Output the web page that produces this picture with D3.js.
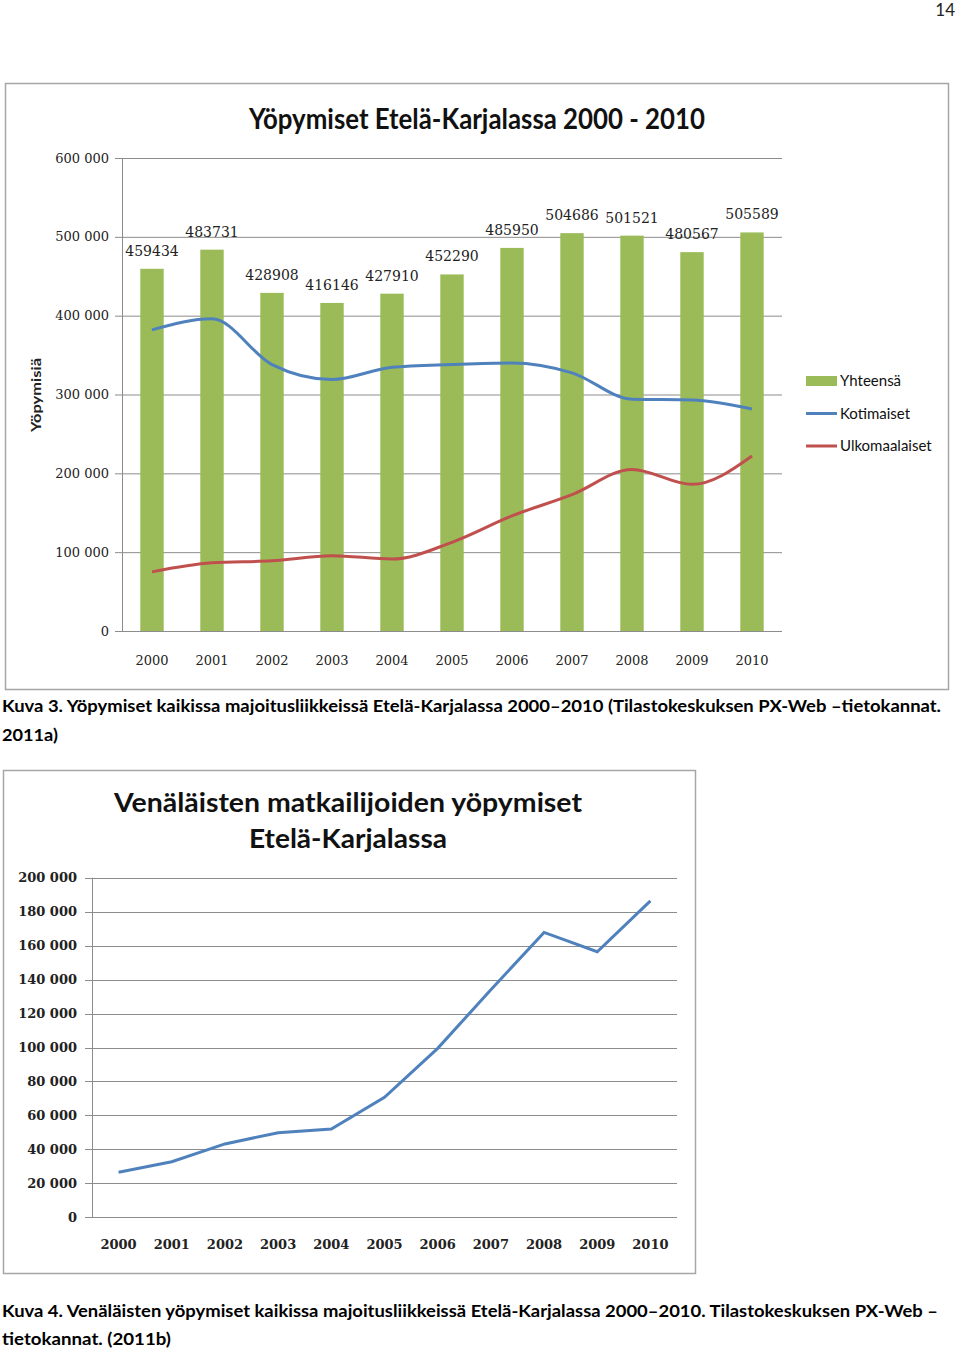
<!DOCTYPE html>
<html>
<meta charset="utf-8">
<style>
    body{ margin:0; background:#fff; }
    svg{ display:block; }
</style>
<body>
<svg width="960" height="1352" font-family="Lato, 'Open Sans', sans-serif"></svg>
<script src="https://d3js.org/d3.v7.min.js"></script>
<script>

    // chart 1 data
    let years = ["2000","2001","2002","2003","2004","2005","2006","2007","2008","2009","2010"];
    let yhteensa = [459434, 483731, 428908, 416146, 427910, 452290, 485950, 504686, 501521, 480567, 505589];
    let kotimaiset = [382000, 396000, 338000, 319000, 334500, 338000, 340000, 327500, 294000, 293000, 281500];
    let ulkomaalaiset = [75000, 86500, 89000, 95500, 91300, 112500, 146000, 173000, 205000, 186000, 222000];
    let yTicks1 = [0, 100000, 200000, 300000, 400000, 500000, 600000];

    // chart 2 data
    let venalaiset = [26500, 32700, 43200, 49800, 52000, 70700, 99500, 134000, 167800, 156400, 186400];
    let yTicks2 = [0, 20000, 40000, 60000, 80000, 100000, 120000, 140000, 160000, 180000, 200000];

    let fi = d3.formatLocale({decimal: ",", thousands: "\u00a0", grouping: [3], currency: ["", " €"]});
    let fmt = fi.format(",d");

    let svg = d3.select("svg");
    let green = "#9bbb59", blue = "#4f81bd", red = "#c0504d", grid = "#8c8c8c";
    let serif = "'DejaVu Serif', 'Liberation Serif', serif";

    // page number
    svg.append("text").attr("x", 955).attr("y", 16).attr("text-anchor", "end")
        .attr("font-size", 17).attr("fill", "#222").text("14");

    // ---------- chart 1 ----------
    svg.append("rect").attr("x", 5.5).attr("y", 83.5).attr("width", 943).attr("height", 606)
        .attr("fill", "#fff").attr("stroke", "#a6a6a6").attr("stroke-width", 1.5);

    let x1 = d3.scaleBand().domain(years).range([122, 782]).paddingInner(0.61).paddingOuter(0.305);
    let y1 = d3.scaleLinear().domain([0, 600000]).range([631, 158]);
    let g1 = svg.append("g");

    g1.append("g").selectAll("line").data(yTicks1).enter().append("line")
        .attr("x1", 115).attr("x2", 782)
        .attr("y1", d => y1(d) + 0.5).attr("y2", d => y1(d) + 0.5)
        .attr("stroke", grid).attr("stroke-width", 1);
    g1.append("line").attr("x1", 122.5).attr("x2", 122.5).attr("y1", 158).attr("y2", 631)
        .attr("stroke", grid);

    g1.append("g").selectAll("text").data(yTicks1).enter().append("text")
        .attr("x", 109).attr("y", d => y1(d)).attr("dy", "0.35em")
        .attr("text-anchor", "end").attr("font-size", 13).attr("fill", "#222")
        .attr("font-family", serif)
        .text(d => fmt(d));

    g1.append("g").selectAll("text").data(years).enter().append("text")
        .attr("x", d => x1(d) + x1.bandwidth() / 2).attr("y", 660).attr("dy", "0.35em")
        .attr("text-anchor", "middle").attr("font-size", 13).attr("fill", "#222")
        .attr("font-family", serif)
        .text(d => d);

    g1.append("g").selectAll("rect").data(years).enter().append("rect")
        .attr("x", d => x1(d)).attr("width", x1.bandwidth())
        .attr("y", (d, i) => y1(yhteensa[i])).attr("height", (d, i) => 631 - y1(yhteensa[i]))
        .attr("fill", green);

    g1.append("g").selectAll("text").data(years).enter().append("text")
        .attr("x", d => x1(d) + x1.bandwidth() / 2)
        .attr("y", (d, i) => y1(yhteensa[i]) - 13)
        .attr("text-anchor", "middle").attr("font-size", 14).attr("fill", "#222")
        .attr("font-family", serif)
        .text((d, i) => yhteensa[i]);

    let line1 = d3.line()
        .x((d, i) => x1(years[i]) + x1.bandwidth() / 2)
        .y(d => y1(d))
        .curve(d3.curveMonotoneX);

    g1.append("path").datum(kotimaiset).attr("d", line1)
        .attr("fill", "none").attr("stroke", blue).attr("stroke-width", 3);
    g1.append("path").datum(ulkomaalaiset).attr("d", line1)
        .attr("fill", "none").attr("stroke", red).attr("stroke-width", 3);

    svg.append("text").attr("x", 477).attr("y", 119).attr("dy", "0.35em")
        .attr("text-anchor", "middle").attr("font-size", 28).attr("font-weight", "bold")
        .attr("fill", "#111").attr("textLength", 456).attr("lengthAdjust", "spacingAndGlyphs")
        .text("Yöpymiset Etelä-Karjalassa 2000 - 2010");

    svg.append("text").attr("transform", "translate(36,395) rotate(-90)")
        .attr("text-anchor", "middle").attr("dy", "0.35em")
        .attr("font-size", 14).attr("font-weight", "bold").attr("fill", "#222")
        .attr("textLength", 74).attr("lengthAdjust", "spacingAndGlyphs")
        .text("Yöpymisiä");

    let legend = svg.append("g").selectAll("g")
        .data([["Yhteensä", green, "bar"], ["Kotimaiset", blue, "line"], ["Ulkomaalaiset", red, "line"]])
        .enter().append("g")
        .attr("transform", (d, i) => "translate(806," + (381 + i * 32.5) + ")");
    legend.append("rect")
        .attr("y", d => d[2] === "bar" ? -5 : -1.5)
        .attr("width", 31).attr("height", d => d[2] === "bar" ? 10 : 3)
        .attr("fill", d => d[1]);
    legend.append("text").attr("x", 34).attr("dy", "0.35em")
        .attr("font-size", 15).attr("fill", "#111").text(d => d[0]);

    svg.append("text").attr("x", 2).attr("y", 712).attr("font-size", 17).attr("font-weight", "bold")
        .attr("fill", "#000").attr("textLength", 939).attr("lengthAdjust", "spacingAndGlyphs")
        .text("Kuva 3. Yöpymiset kaikissa majoitusliikkeissä Etelä-Karjalassa 2000–2010 (Tilastokeskuksen PX-Web –tietokannat.");
    svg.append("text").attr("x", 2).attr("y", 741).attr("font-size", 17).attr("font-weight", "bold")
        .attr("fill", "#000").attr("textLength", 56).attr("lengthAdjust", "spacingAndGlyphs")
        .text("2011a)");

    // ---------- chart 2 ----------
    svg.append("rect").attr("x", 3.5).attr("y", 770.5).attr("width", 692).attr("height", 503)
        .attr("fill", "#fff").attr("stroke", "#a6a6a6").attr("stroke-width", 1.5);

    let x2 = d3.scalePoint().domain(years).range([92, 677]).padding(0.5);
    let y2 = d3.scaleLinear().domain([0, 200000]).range([1217.3, 877.7]);
    let g2 = svg.append("g");

    g2.append("g").selectAll("line").data(yTicks2).enter().append("line")
        .attr("x1", 85).attr("x2", 677)
        .attr("y1", d => Math.round(y2(d)) + 0.5).attr("y2", d => Math.round(y2(d)) + 0.5)
        .attr("stroke", grid).attr("stroke-width", 1);
    g2.append("line").attr("x1", 92.5).attr("x2", 92.5).attr("y1", 877.7).attr("y2", 1217.3)
        .attr("stroke", grid);

    g2.append("g").selectAll("text").data(yTicks2).enter().append("text")
        .attr("x", 77).attr("y", d => y2(d)).attr("dy", "0.35em")
        .attr("text-anchor", "end").attr("font-size", 13).attr("font-weight", "bold").attr("fill", "#222")
        .attr("font-family", serif)
        .text(d => fmt(d));

    g2.append("g").selectAll("text").data(years).enter().append("text")
        .attr("x", d => x2(d)).attr("y", 1244).attr("dy", "0.35em")
        .attr("text-anchor", "middle").attr("font-size", 13).attr("font-weight", "bold").attr("fill", "#222")
        .attr("font-family", serif)
        .text(d => d);

    let line2 = d3.line().x((d, i) => x2(years[i])).y(d => y2(d));
    g2.append("path").datum(venalaiset).attr("d", line2)
        .attr("fill", "none").attr("stroke", blue).attr("stroke-width", 3);

    svg.append("text").attr("x", 348).attr("y", 803).attr("dy", "0.35em")
        .attr("text-anchor", "middle").attr("font-size", 26).attr("font-weight", "bold").attr("fill", "#111")
        .attr("textLength", 468).attr("lengthAdjust", "spacingAndGlyphs")
        .text("Venäläisten matkailijoiden yöpymiset");
    svg.append("text").attr("x", 348).attr("y", 839).attr("dy", "0.35em")
        .attr("text-anchor", "middle").attr("font-size", 26).attr("font-weight", "bold").attr("fill", "#111")
        .attr("textLength", 198).attr("lengthAdjust", "spacingAndGlyphs")
        .text("Etelä-Karjalassa");

    svg.append("text").attr("x", 2).attr("y", 1317).attr("font-size", 17).attr("font-weight", "bold")
        .attr("fill", "#000").attr("textLength", 936).attr("lengthAdjust", "spacingAndGlyphs")
        .text("Kuva 4. Venäläisten yöpymiset kaikissa majoitusliikkeissä Etelä-Karjalassa 2000–2010. Tilastokeskuksen PX-Web –");
    svg.append("text").attr("x", 2).attr("y", 1345).attr("font-size", 17).attr("font-weight", "bold")
        .attr("fill", "#000").attr("textLength", 169).attr("lengthAdjust", "spacingAndGlyphs")
        .text("tietokannat. (2011b)");

</script>
</body>
</html>
